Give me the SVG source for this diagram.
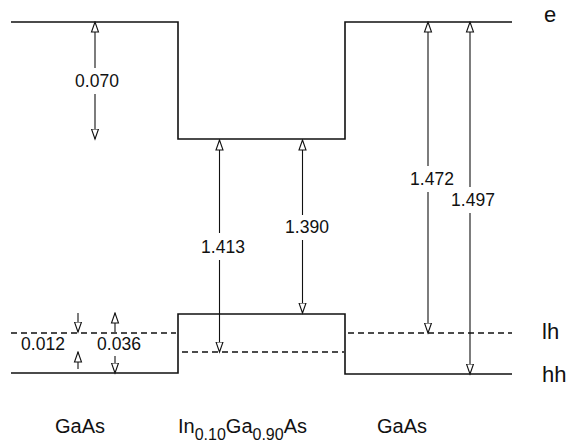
<svg xmlns="http://www.w3.org/2000/svg" width="568" height="446" viewBox="0 0 568 446">
<style>
.lvl{fill:none;stroke:#111;stroke-width:1.6}
.dash{fill:none;stroke:#111;stroke-width:1.4;stroke-dasharray:6 4}
.arr{fill:none;stroke:#111;stroke-width:1.1;marker-end:url(#head)}
text{font-family:"Liberation Sans",Arial,sans-serif;fill:#111}
.num{font-size:17.5px;text-anchor:middle}
.lab{font-size:22px}
.mat{font-size:20px;text-anchor:middle}
</style>
<defs>
<marker id="head" markerUnits="userSpaceOnUse" markerWidth="12" markerHeight="10" refX="10.5" refY="4" orient="auto" viewBox="0 0 12 8">
<path d="M0.5,0.5 L10.5,4 L0.5,7.5 Z" fill="#fff" stroke="#111" stroke-width="1.1"/>
</marker>
</defs>
<g id="bands">
<path class="lvl" d="M11,22 H178 V139 H345 V22 H512"/>
<path class="lvl" d="M11,373 H178 V314 H345 V374 H512"/>
<line class="dash" x1="11" y1="333" x2="176" y2="333"/>
<line class="dash" x1="348" y1="333" x2="512" y2="333"/>
<line class="dash" x1="182" y1="352" x2="344" y2="352"/>
</g>
<g id="connectors">
<line class="arr" x1="95" y1="68" x2="95" y2="22"/>
<line class="arr" x1="95" y1="94" x2="95" y2="139"/>
<line class="arr" x1="219.5" y1="233" x2="219.5" y2="140"/>
<line class="arr" x1="219.5" y1="260" x2="219.5" y2="352"/>
<line class="arr" x1="302.5" y1="215" x2="302.5" y2="140"/>
<line class="arr" x1="302.5" y1="240" x2="302.5" y2="313"/>
<line class="arr" x1="428" y1="166" x2="428" y2="22"/>
<line class="arr" x1="428" y1="192" x2="428" y2="333"/>
<line class="arr" x1="470" y1="187" x2="470" y2="22"/>
<line class="arr" x1="470" y1="213" x2="470" y2="374"/>
<line class="arr" x1="78" y1="313" x2="78" y2="332"/>
<line class="arr" x1="78" y1="369" x2="78" y2="352"/>
<line class="arr" x1="115" y1="332" x2="115" y2="313"/>
<line class="arr" x1="115" y1="356" x2="115" y2="373"/>
</g>
<g id="values">
<text class="num" x="97" y="87">0.070</text>
<text class="num" x="223" y="253">1.413</text>
<text class="num" x="307" y="233">1.390</text>
<text class="num" x="432" y="185">1.472</text>
<text class="num" x="473" y="206">1.497</text>
<text class="num" x="43" y="350">0.012</text>
<text class="num" x="119" y="350">0.036</text>
</g>
<g id="levels">
<text class="lab" x="544" y="22">e</text>
<text class="lab" x="542" y="339">lh</text>
<text class="lab" x="542" y="382">hh</text>
</g>
<g id="materials">
<text class="mat" x="80" y="433">GaAs</text>
<text x="178" y="433" style="font-size:20px">In<tspan dy="7" style="font-size:16px">0.10</tspan><tspan dy="-7">Ga</tspan><tspan dy="7" style="font-size:16px">0.90</tspan><tspan dy="-7">As</tspan></text>
<text class="mat" x="402" y="433">GaAs</text>
</g>
</svg>
